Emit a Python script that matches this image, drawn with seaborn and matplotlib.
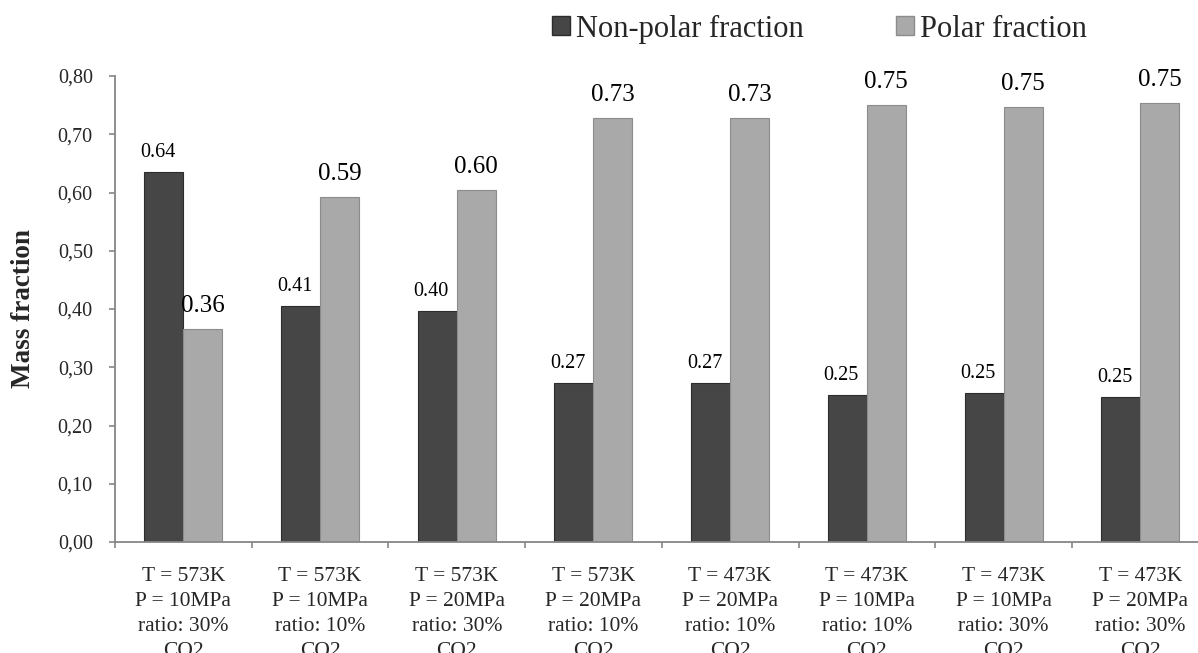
import numpy as np
import pandas as pd
import matplotlib
matplotlib.use("Agg")
import matplotlib.pyplot as plt
import matplotlib.patches as mpatches
import seaborn as sns

# ---- data ----
conditions = [
    "T = 573K\nP = 10MPa\nratio: 30%\nCO2",
    "T = 573K\nP = 10MPa\nratio: 10%\nCO2",
    "T = 573K\nP = 20MPa\nratio: 30%\nCO2",
    "T = 573K\nP = 20MPa\nratio: 10%\nCO2",
    "T = 473K\nP = 20MPa\nratio: 10%\nCO2",
    "T = 473K\nP = 10MPa\nratio: 10%\nCO2",
    "T = 473K\nP = 10MPa\nratio: 30%\nCO2",
    "T = 473K\nP = 20MPa\nratio: 30%\nCO2",
]
series_names = ["Non-polar fraction", "Polar fraction"]
nonpolar = [0.635, 0.405, 0.396, 0.273, 0.273, 0.253, 0.256, 0.249]
polar = [0.366, 0.593, 0.604, 0.728, 0.728, 0.751, 0.747, 0.754]
nonpolar_labels = ["0.64", "0.41", "0.40", "0.27", "0.27", "0.25", "0.25", "0.25"]
polar_labels = ["0.36", "0.59", "0.60", "0.73", "0.73", "0.75", "0.75", "0.75"]
yticks = [0.0, 0.1, 0.2, 0.3, 0.4, 0.5, 0.6, 0.7, 0.8]

df = pd.DataFrame({
    "condition": conditions * 2,
    "series": [series_names[0]] * len(conditions) + [series_names[1]] * len(conditions),
    "value": nonpolar + polar,
})

# ---- style ----
sns.set_style("white")
plt.rcParams["font.family"] = ["Liberation Serif", "DejaVu Serif"]

dark = "#464646"
light = "#a9a9a9"
axis_grey = "#868686"

W, H = 1198, 653
fig = plt.figure(figsize=(W / 100, H / 100), dpi=100)
left_px, right_px, top_px, bottom_px = 115, 1208.6, 76, 542
ax_w_px = right_px - left_px
ax = fig.add_axes([left_px / W, 1 - bottom_px / H,
                   ax_w_px / W, (bottom_px - top_px) / H])

sns.barplot(data=df, x="condition", y="value", hue="series",
            order=conditions, hue_order=series_names,
            palette=[dark, light], width=0.57, ax=ax,
            legend=False, saturation=1)

for cont, ec in zip(ax.containers, ["#2c2c2c", "#8c8c8c"]):
    for bar in cont:
        bar.set_edgecolor(ec)
        bar.set_linewidth(0.8)

ax.set_xlim(-0.5, len(conditions) - 0.5)
ax.set_ylim(0, 0.8)

# value labels
for cont, labs, fs, dx, dy in zip(ax.containers, [nonpolar_labels, polar_labels],
                                  [14.5, 18], [-6, 0], [15, 17]):
    for bar, lab in zip(cont, labs):
        ax.annotate(lab, (bar.get_x() + bar.get_width() / 2, bar.get_height()),
                    xytext=(dx, dy), textcoords="offset pixels",
                    ha="center", va="baseline", fontsize=fs, color="black")

# axes styling
sns.despine(ax=ax, top=True, right=True)
for s in ["left", "bottom"]:
    ax.spines[s].set_color(axis_grey)
    ax.spines[s].set_linewidth(1.3)

ax.set_yticks(yticks)
ax.set_yticklabels([f"{v:.2f}".replace(".", ",") for v in yticks], fontsize=14.5)
ax.tick_params(axis="y", direction="out", length=4.5, width=1.2, color=axis_grey,
               pad=11.5, left=True)

boundaries = np.arange(-0.5, len(conditions) + 0.5, 1.0)
ax.set_xticks(boundaries)
ax.set_xticklabels([""] * len(boundaries))
ax.set_xticks(np.arange(len(conditions)), minor=True)
ax.set_xticklabels(conditions, minor=True, fontsize=15.5, linespacing=1.43)
ax.tick_params(axis="x", which="major", direction="out", length=4.5, width=1.2,
               color=axis_grey, bottom=True)
ax.tick_params(axis="x", which="minor", length=0, pad=18)

ax.set_xlabel("")
ax.set_ylabel("Mass fraction", fontsize=19.5, fontweight="bold")
ax.yaxis.set_label_coords(-(left_px - 36) / ax_w_px, 0.5)

# legend
handles = [mpatches.Patch(facecolor=dark, edgecolor="#2c2c2c"),
           mpatches.Patch(facecolor=light, edgecolor="#8c8c8c")]
fig.legend(handles, series_names, loc="center left",
           bbox_to_anchor=(552 / W, 1 - 29 / H), ncol=2, frameon=False,
           fontsize=22, handlelength=0.6, handleheight=0.6,
           handletextpad=0.2, columnspacing=3.0, borderaxespad=0, borderpad=0)

fig.savefig("out.png", dpi=100)
